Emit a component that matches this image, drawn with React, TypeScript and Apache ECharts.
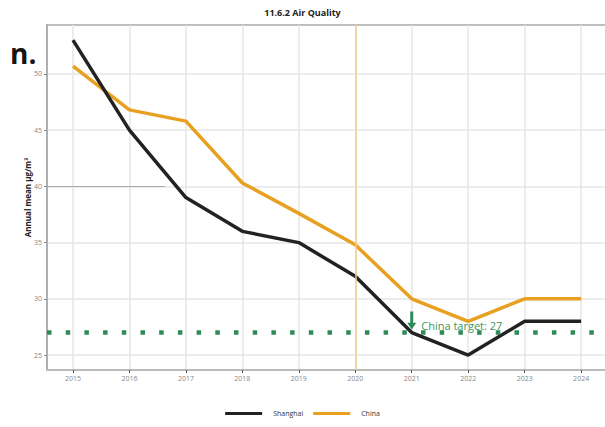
import React, { useEffect, useRef } from "react";
import * as echarts from "echarts";

const years = [2015, 2016, 2017, 2018, 2019, 2020, 2021, 2022, 2023, 2024];
const shanghai = [53, 45, 39, 36, 35, 32, 27, 25, 28, 28];
const china = [50.7, 46.8, 45.8, 40.3, 37.6, 34.8, 30, 28, 30, 30];
const yTicks = [25, 30, 35, 40, 45, 50];
const target = 27;
const targetLabel = "China target: 27";
const highlightYear = 2020;

const X_MIN = 2014.54;
const X_MAX = 2024.6;
const Y_MIN = 23.67;
const Y_MAX = 54.35;
const FONT = "'Open Sans', 'Noto Sans', sans-serif";

export default function App() {
  const ref = useRef<HTMLDivElement>(null);
  useEffect(() => {
    if (!ref.current) return;
    const chart = echarts.init(ref.current, null, { renderer: "svg" });
    chart.setOption({
      animation: false,
      textStyle: { fontFamily: FONT },
      title: {
        text: "11.6.2 Air Quality",
        left: "center",
        top: 3,
        textStyle: { fontSize: 9, fontWeight: "bold", color: "#222", fontFamily: FONT },
      },
      graphic: [
        {
          type: "text",
          left: 10,
          top: 39,
          style: {
            text: "n.",
            fontSize: 28,
            lineHeight: 26,
            fontWeight: "bold",
            fill: "#151515",
            fontFamily: FONT,
          },
        },
      ],
      legend: {
        bottom: 5,
        left: "center",
        icon: "rect",
        itemWidth: 37,
        itemHeight: 3,
        itemGap: 10,
        formatter: (name: string) => "{a|" + name + "}",
        textStyle: {
          fontSize: 7,
          color: "#333",
          fontFamily: FONT,
          rich: { a: { fontSize: 7, color: "#333", fontFamily: FONT, padding: [0, 0, 0, 6] } },
        },
        data: ["Shanghai", "China"],
      },
      grid: {
        left: 47,
        top: 25,
        bottom: 57,
        width: 568,
        outerBoundsMode: "none",
        containLabel: false,
        show: true,
        borderColor: "#aaa",
        borderWidth: 1.5,
      },
      xAxis: {
        type: "value",
        min: X_MIN,
        max: X_MAX,
        axisLine: { show: true, lineStyle: { color: "#bbb", width: 2 } },
        axisTick: { show: true, customValues: years, length: 3, lineStyle: { color: "#555" } },
        axisLabel: {
          customValues: years,
          fontSize: 7,
          color: "#888",
          margin: 5,
          fontFamily: FONT,
          formatter: (v: number) => String(v),
        },
        splitLine: { show: true, lineStyle: { color: "#e6e6e6", width: 1.5 } },
      },
      yAxis: {
        type: "value",
        min: Y_MIN,
        max: Y_MAX,
        name: "Annual mean µg/m³",
        nameLocation: "middle",
        nameGap: 16,
        nameMoveOverlap: false,
        nameTextStyle: { fontSize: 8, fontWeight: "bold", color: "#222", fontFamily: FONT },
        axisLine: { show: true, lineStyle: { color: "#aaa", width: 1.5 } },
        axisTick: { show: true, customValues: yTicks, length: 3, lineStyle: { color: "#888" } },
        axisLabel: { customValues: yTicks, fontSize: 7, color: "#888", margin: 5, fontFamily: FONT },
        splitLine: { show: true, lineStyle: { color: "#e6e6e6", width: 1.5 } },
      },
      series: [
        {
          name: "Target",
          type: "line",
          data: [],
          silent: true,
          z: 5,
          markLine: {
            silent: true,
            symbol: "none",
            label: { show: false },
            data: [
              {
                yAxis: target,
                lineStyle: { color: "#2e8b57", width: 4.5, type: [4.5, 14.2], cap: "butt", opacity: 1 },
              },
              {
                xAxis: highlightYear,
                lineStyle: { color: "#f0d08e", width: 1.5, type: "solid", opacity: 1 },
              },
              [
                { coord: [X_MIN, 40], lineStyle: { color: "#aaa", width: 1, type: "solid" } },
                { coord: [2016.63, 40] },
              ],
            ],
          },
          markPoint: {
            silent: true,
            data: [
              {
                coord: [2021, target],
                symbol: "path://M3,0 L6,0 L6,10 L9,10 L4.5,16 L0,10 L3,10 Z",
                symbolSize: [9, 18],
                symbolOffset: [0, -12],
                itemStyle: { color: "#2e8b57" },
                label: {
                  show: true,
                  position: "right",
                  distance: 5,
                  offset: [0, 5],
                  formatter: targetLabel,
                  color: "#3a9664",
                  fontSize: 11,
                  fontFamily: FONT,
                },
              },
            ],
          },
        },
        {
          name: "Shanghai",
          type: "line",
          data: years.map((y, i) => [y, shanghai[i]]),
          showSymbol: false,
          lineStyle: { color: "#222", width: 3.5 },
          itemStyle: { color: "#222" },
          z: 4,
        },
        {
          name: "China",
          type: "line",
          data: years.map((y, i) => [y, china[i]]),
          showSymbol: false,
          lineStyle: { color: "#e8a020", width: 3.5 },
          itemStyle: { color: "#e8a020" },
          z: 3,
        },
      ],
    });
    return () => chart.dispose();
  }, []);
  return (
    <div
      ref={ref}
      style={{ position: "fixed", left: 0, top: 0, width: 605, height: 427, background: "#fff" }}
    />
  );
}
